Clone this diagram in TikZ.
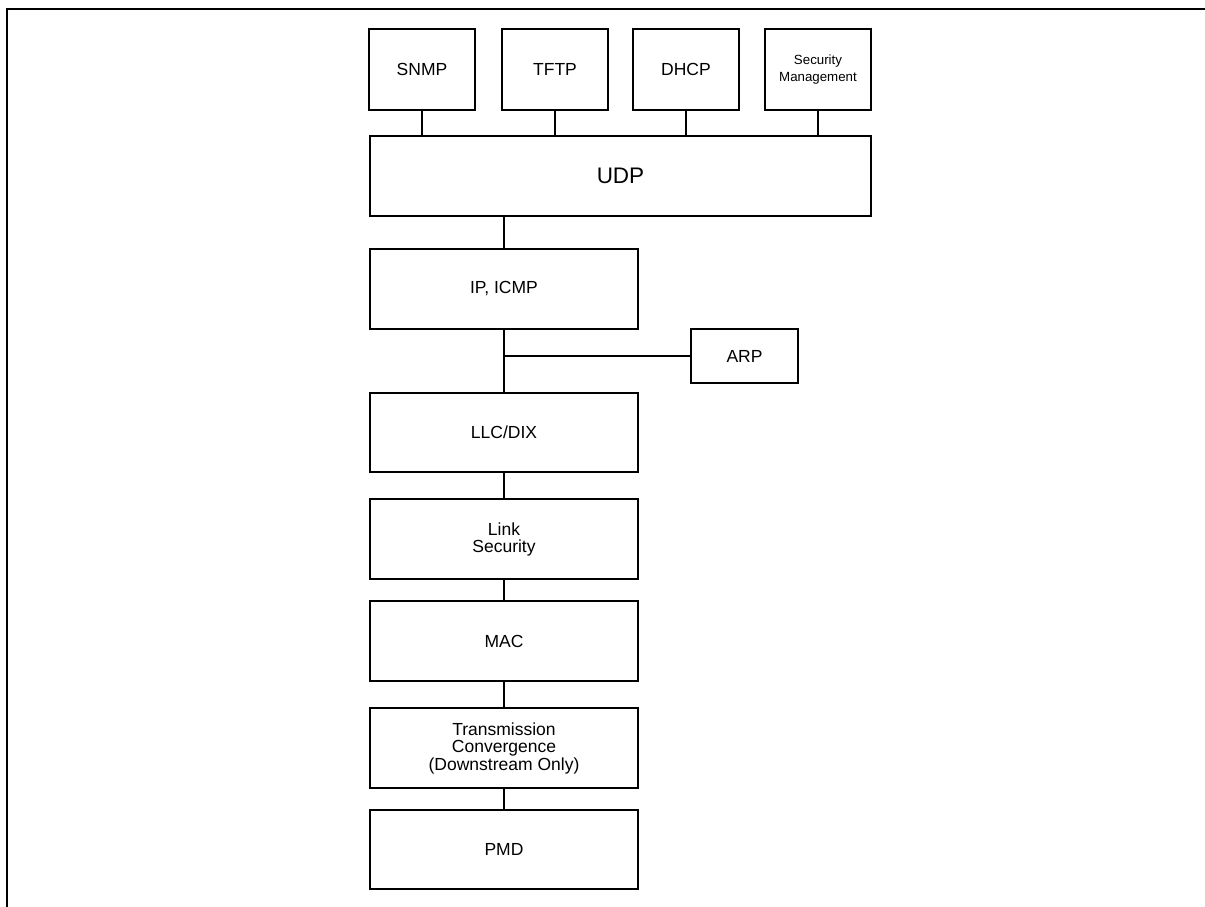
\documentclass[tikz,border=0pt]{standalone}
\usepackage{fontspec}
\setmainfont{Liberation Sans}
\begin{document}
\begin{tikzpicture}[x=1pt,y=-1pt,
  box/.style={draw, line width=2pt, inner sep=0pt, align=center,
    font=\fontsize{17.5}{17.5}\selectfont, minimum width=268pt, minimum height=80pt},
  topbox/.style={box, minimum width=106pt, minimum height=81pt},
  conn/.style={line width=2pt}]
\useasboundingbox (0,0) rectangle (1205,907);
\draw[line width=2pt, line join=miter] (1205,9) -- (7,9) -- (7,907);

\node[topbox] (snmp) at (422,69.5) {SNMP};
\node[topbox] (tftp) at (555,69.5) {TFTP};
\node[topbox] (dhcp) at (686,69.5) {DHCP};
\node[topbox, font=\fontsize{13.3}{17}\selectfont] (secm) at (818,69.5) {Security\\Management};
\node[box, minimum width=501pt, font=\fontsize{22.5}{22.5}\selectfont] (udp) at (620.5,176) {UDP};
\node[box] (ip) at (504,289) {IP, ICMP};
\node[box, minimum width=107pt, minimum height=54pt] (arp) at (744.5,356) {ARP};
\node[box, minimum height=79pt] (llc) at (504,432.5) {LLC/DIX};
\node[box, font=\fontsize{17.5}{17}\selectfont] (lsec) at (504,539) {Link\\Security};
\node[box] (mac) at (504,641) {MAC};
\node[box] (tc) at (504,748) {Transmission\\Convergence\\(Downstream Only)};
\node[box, minimum height=79pt] (pmd) at (504,849.5) {PMD};

\draw[conn] (snmp.south) -- (snmp.south |- udp.north);
\draw[conn] (tftp.south) -- (tftp.south |- udp.north);
\draw[conn] (dhcp.south) -- (dhcp.south |- udp.north);
\draw[conn] (secm.south) -- (secm.south |- udp.north);
\draw[conn] (ip.north |- udp.south) -- (ip.north);
\draw[conn] (ip.south) -- (llc.north);
\coordinate (j) at (ip.south |- arp.west);
\draw[conn] (j) -- (arp.west);
\draw[conn] (llc.south) -- (lsec.north);
\draw[conn] (lsec.south) -- (mac.north);
\draw[conn] (mac.south) -- (tc.north);
\draw[conn] (tc.south) -- (pmd.north);
\end{tikzpicture}
\end{document}
